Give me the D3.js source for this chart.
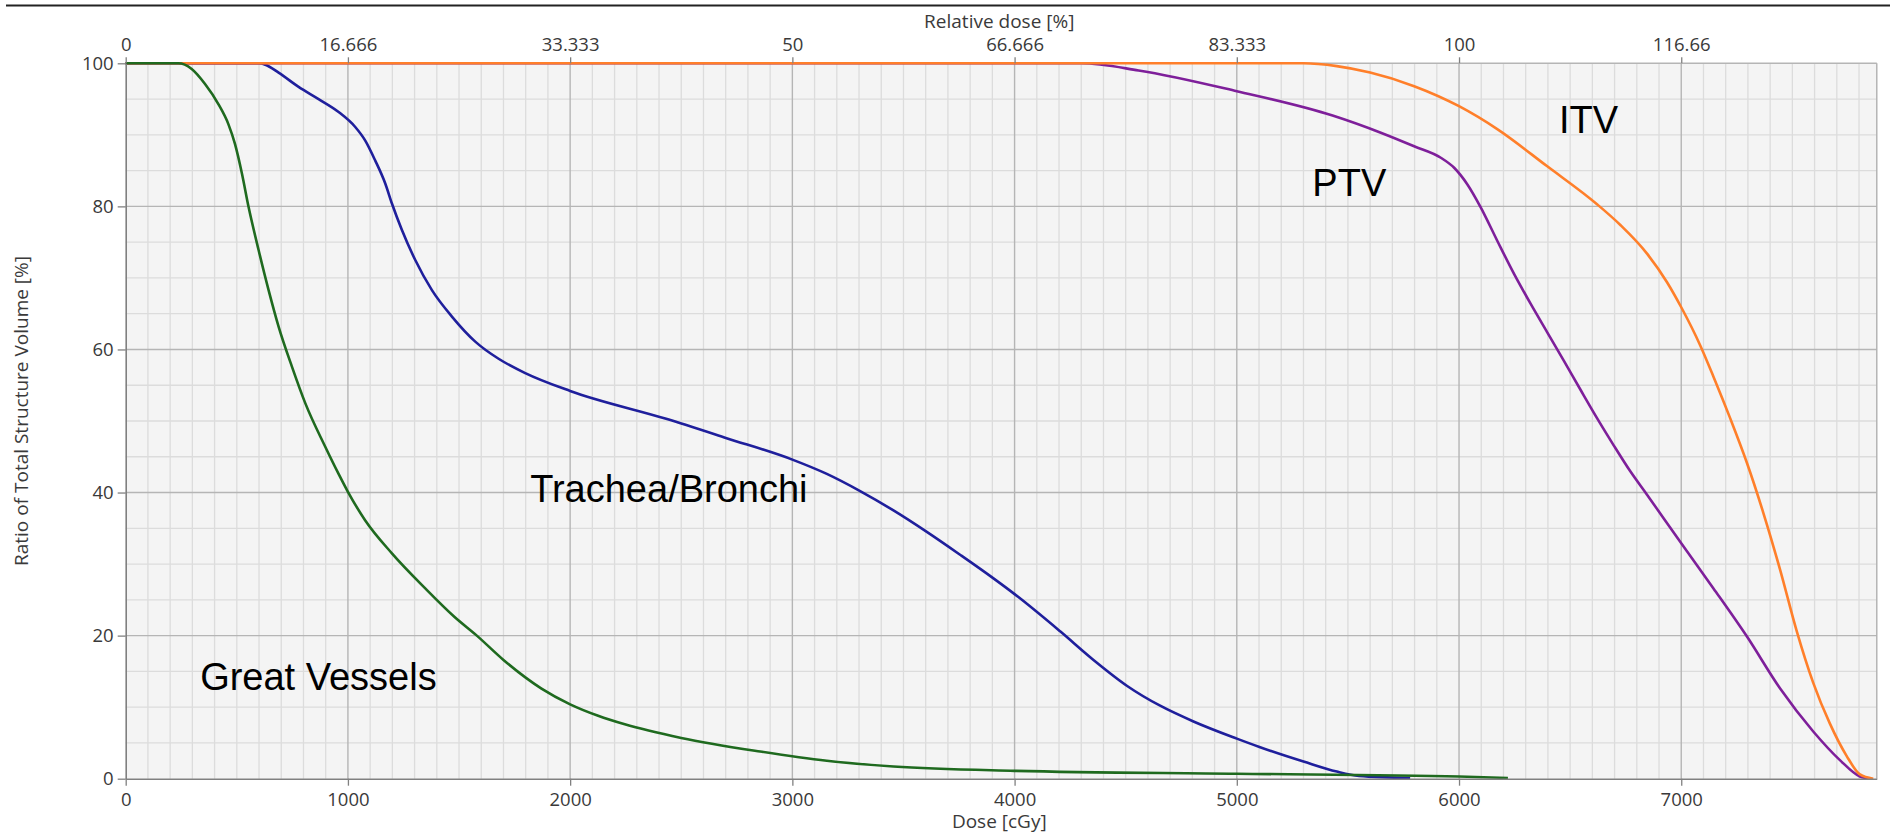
<!DOCTYPE html>
<html>
<head>
<meta charset="utf-8">
<script src="https://cdn.jsdelivr.net/npm/d3@7"></script>
<style>
  body { margin: 0; background: #fff; }
  svg { display: block; }
</style>
</head>
<body>
<div id="chart"></div>
<script>
// Dose-volume curves, [dose cGy, volume %]
const greatVessels = [
  [0, 100], [237, 100], [297, 99.2], [357, 97.1], [417, 94.3], [462, 91.5], [492, 88.7],
  [523, 84.6], [553, 79.9], [598, 73.9], [643, 68.3], [688, 63.2], [748, 57.6], [808, 52.5],
  [898, 46.4], [958, 42.6], [1000, 40.1], [1078, 36.1], [1198, 31.5], [1348, 26.6],
  [1480, 22.6], [1580, 20.0], [1700, 16.6], [1871, 12.6], [2000, 10.4], [2126, 8.8],
  [2246, 7.6], [2500, 5.7], [2855, 3.8], [3155, 2.5], [3455, 1.7], [4000, 1.1],
  [5000, 0.7], [6000, 0.3], [6220, 0.1]
];
const tracheaBronchi = [
  [0, 100], [600, 100], [628, 99.8], [688, 98.7], [778, 96.7], [868, 95], [958, 93.2],
  [1033, 91.1], [1078, 89.2], [1123, 86.4], [1168, 83.2], [1198, 80.4], [1243, 76.7],
  [1303, 72.5], [1378, 68.3], [1468, 64.6], [1573, 61.1], [1678, 58.7], [1798, 56.7],
  [2000, 54.2], [2432, 50.3], [2704, 47.6], [3000, 44.6], [3155, 42.6], [3305, 40.2],
  [3455, 37.5], [3605, 34.5], [3755, 31.3], [3905, 28.0], [4000, 25.8], [4205, 20.6],
  [4355, 16.6], [4505, 13.0], [4655, 10.2], [4805, 8.0], [5000, 5.6], [5105, 4.4],
  [5300, 2.4], [5450, 1.0], [5550, 0.4], [5780, 0.1]
];
const ptv = [
  [0, 100], [4300, 100], [4558, 99], [5000, 96.1], [5431, 92.7], [5648, 90.3], [5798, 88.4],
  [5918, 86.8], [5978, 85.4], [6037, 83.1], [6097, 79.9], [6172, 75.2], [6247, 70.6],
  [6322, 66.4], [6397, 62.4], [6472, 58.4], [6546, 54.4], [6621, 50.4], [6696, 46.6],
  [6770, 43.0], [6846, 39.7], [7000, 32.9], [7145, 26.6], [7295, 19.9], [7445, 12.6],
  [7594, 6.6], [7714, 2.6], [7804, 0.3], [7850, 0]
];
const itv = [
  [0, 100], [5300, 100], [5450, 99.6], [5600, 98.7], [5798, 96.8], [6000, 94.0], [6172, 90.8],
  [6397, 85.6], [6621, 80.3], [6726, 77.4], [6846, 73.4], [6936, 69.4], [7000, 65.9],
  [7085, 60.6], [7145, 56.2], [7220, 50.4], [7295, 44.2], [7370, 37.1], [7445, 29.2],
  [7520, 20.6], [7594, 13.4], [7669, 7.7], [7744, 3.2], [7804, 0.6], [7864, 0]
];

// draw order: last one on top
const seriesNames = ["Trachea/Bronchi", "PTV", "ITV", "Great Vessels"];
const seriesData = [tracheaBronchi, ptv, itv, greatVessels];
const seriesColors = ["#1f1f9c", "#7e1f9a", "#ff7f2a", "#1f6a1f"];

// curve labels [text, dose, volume]
const curveLabels = [
  ["Great Vessels", 335, 12.4],
  ["Trachea/Bronchi", 1820, 38.7],
  ["PTV", 5340, 81.4],
  ["ITV", 6450, 90.3]
];

const doseTicks = [0, 1000, 2000, 3000, 4000, 5000, 6000, 7000];
const relTickLabels = ["0", "16.666", "33.333", "50", "66.666", "83.333", "100", "116.66"];
const volumeTicks = [0, 20, 40, 60, 80, 100];
const doseMax = 7880;

const W = 1898, H = 837;
const margin = { top: 63.3, right: 21.2, bottom: 58.3, left: 125.7 };
const width = W - margin.left - margin.right;
const height = H - margin.top - margin.bottom;

const svg = d3.select("#chart").append("svg")
  .attr("width", W)
  .attr("height", H);

// frame line at very top
svg.append("line")
  .attr("x1", 6).attr("x2", 1890)
  .attr("y1", 5.5).attr("y2", 5.5)
  .attr("stroke", "#222").attr("stroke-width", 2);

const g = svg.append("g")
  .attr("transform", `translate(${margin.left},${margin.top})`);

const x = d3.scaleLinear().domain([0, doseMax]).range([0, width]);
const y = d3.scaleLinear().domain([0, 100]).range([height, 0]);

g.append("rect")
  .attr("width", width).attr("height", height)
  .attr("fill", "#f4f4f4");

// grid
const minorX = d3.range(100, doseMax, 100).filter(d => d % 1000 !== 0);
const minorY = d3.range(5, 100, 5).filter(d => d % 20 !== 0);
const grid = g.append("g");
grid.selectAll(".mx").data(minorX).join("line")
  .attr("x1", d => x(d)).attr("x2", d => x(d))
  .attr("y1", 0).attr("y2", height)
  .attr("stroke", "#dcdcdc").attr("stroke-width", 1.3);
grid.selectAll(".my").data(minorY).join("line")
  .attr("y1", d => y(d)).attr("y2", d => y(d))
  .attr("x1", 0).attr("x2", width)
  .attr("stroke", "#dcdcdc").attr("stroke-width", 1.3);
grid.selectAll(".Mx").data(doseTicks.slice(1)).join("line")
  .attr("x1", d => x(d)).attr("x2", d => x(d))
  .attr("y1", 0).attr("y2", height)
  .attr("stroke", "#b5b5b5").attr("stroke-width", 1.4);
grid.selectAll(".My").data(volumeTicks.slice(1)).join("line")
  .attr("y1", d => y(d)).attr("y2", d => y(d))
  .attr("x1", 0).attr("x2", width)
  .attr("stroke", "#b5b5b5").attr("stroke-width", 1.4);
grid.append("line")
  .attr("x1", width).attr("x2", width).attr("y1", 0).attr("y2", height)
  .attr("stroke", "#b0b0b0").attr("stroke-width", 1.4);

// curves
const line = d3.line()
  .x(d => x(d[0]))
  .y(d => y(d[1]))
  .curve(d3.curveMonotoneX);

g.append("g").selectAll("path")
  .data(seriesData)
  .join("path")
  .attr("d", d => line(d))
  .attr("fill", "none")
  .attr("stroke", (d, i) => seriesColors[i])
  .attr("stroke-width", 2.6)
  .attr("stroke-linejoin", "round");

// axes
const tickFont = "'Open Sans', 'Noto Sans', sans-serif";
function styleAxis(sel) {
  sel.select(".domain").attr("stroke", "#808080").attr("stroke-width", 1.6);
  sel.selectAll(".tick line").attr("stroke", "#808080").attr("stroke-width", 1.3);
  sel.selectAll(".tick text")
    .attr("fill", "#3a3a3a")
    .style("font-family", tickFont)
    .style("font-size", "18.5px");
}

const xAxis = g.append("g")
  .attr("transform", `translate(0,${height})`)
  .call(d3.axisBottom(x).tickValues(doseTicks).tickSize(7).tickPadding(7).tickSizeOuter(0)
    .tickFormat(d3.format("d")));
styleAxis(xAxis);

const xTop = g.append("g")
  .call(d3.axisTop(x).tickValues(doseTicks).tickSize(6).tickPadding(6).tickSizeOuter(0)
    .tickFormat((d, i) => relTickLabels[i]));
styleAxis(xTop);
xTop.select(".domain").remove();

const yAxis = g.append("g")
  .call(d3.axisLeft(y).tickValues(volumeTicks).tickSize(8).tickPadding(4).tickSizeOuter(0));
styleAxis(yAxis);

// axis titles
const titleSize = "19px";
svg.append("text")
  .attr("x", margin.left + width / 2 - 2).attr("y", 828)
  .attr("text-anchor", "middle")
  .attr("fill", "#3a3a3a")
  .style("font-family", tickFont).style("font-size", titleSize)
  .text("Dose [cGy]");

svg.append("text")
  .attr("x", margin.left + width / 2 - 2).attr("y", 28)
  .attr("text-anchor", "middle")
  .attr("fill", "#3a3a3a")
  .style("font-family", tickFont).style("font-size", titleSize)
  .text("Relative dose [%]");

svg.append("text")
  .attr("transform", `translate(28,${margin.top + height / 2 - 10}) rotate(-90)`)
  .attr("text-anchor", "middle")
  .attr("fill", "#3a3a3a")
  .style("font-family", tickFont).style("font-size", titleSize)
  .text("Ratio of Total Structure Volume [%]");

// curve labels
g.append("g").selectAll("text")
  .data(curveLabels)
  .join("text")
  .attr("x", d => x(d[1]))
  .attr("y", d => y(d[2]))
  .attr("fill", "#000")
  .style("font-family", "'Liberation Sans', Arial, sans-serif")
  .style("font-size", "38px")
  .text(d => d[0]);
</script>
</body>
</html>
